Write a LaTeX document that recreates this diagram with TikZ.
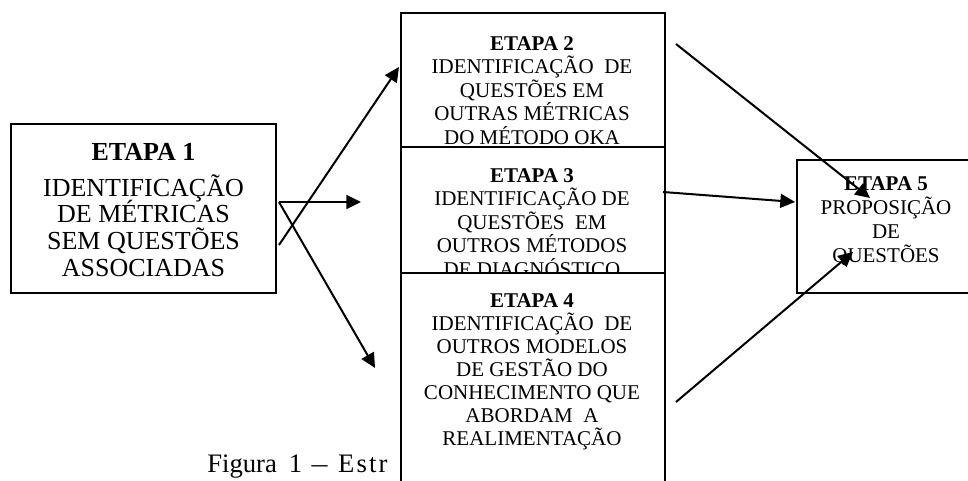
\documentclass[tikz,border=0pt]{standalone}
\usepackage{fontspec}
\setmainfont{Liberation Serif}
\usetikzlibrary{arrows.meta}
\newcommand{\fbig}{\rmfamily\fontsize{19.5pt}{19.9pt}\selectfont\lineskiplimit=-100pt}
\newcommand{\fmid}{\rmfamily\fontsize{15.75pt}{17.6pt}\selectfont\lineskiplimit=-100pt}
\newcommand{\fmidb}{\rmfamily\fontsize{15.75pt}{17.25pt}\selectfont\lineskiplimit=-100pt}
\newcommand{\fright}{\rmfamily\fontsize{15.75pt}{18pt}\selectfont\lineskiplimit=-100pt}
\newcommand{\fcap}{\rmfamily\fontsize{20pt}{22pt}\selectfont}
\tikzset{
  boxstyle/.style={draw, line width=1.5pt, fill=white, inner sep=0pt, anchor=north west},
  txt/.style={inner sep=0pt, align=center, anchor=north},
  arr/.style={line width=1.5pt, -{Triangle[length=11pt,width=10.5pt]}}
}
\begin{document}
\begin{tikzpicture}[x=0.75pt, y=-0.75pt]
\useasboundingbox (0,0) rectangle (968,481);
% caption (partly hidden by box 4)
\node[inner sep=0pt, anchor=base west, font=\fcap] (cap) at (207,472) {Figura\hspace{9pt}1\hspace{7pt}\scalebox{1.2}[1]{–}\hspace{8pt}{\addfontfeature{LetterSpace=8}Estr}};
% box 1
\node[boxstyle, minimum width=198.75pt, minimum height=126.75pt] (e1) at (10,123) {};
\node[txt, font=\fbig] (t1) at (143.5,143) {\textbf{ETAPA 1}\\[7.1pt] IDENTIFICAÇÃO\\DE MÉTRICAS\\SEM QUESTÕES\\ASSOCIADAS};
% box 2
\node[boxstyle, minimum width=198pt, minimum height=100.5pt] (e2) at (400,12) {};
\node[txt, font=\fmid] (t2) at (532,36) {\textbf{ETAPA 2}\\IDENTIFICAÇÃO\ \ DE\\QUESTÕES EM\\OUTRAS MÉTRICAS\\DO MÉTODO OKA};
% box 3
\node[boxstyle, minimum width=198pt, minimum height=94.5pt] (e3) at (400,146) {};
\node[txt, font=\fmid] (t3) at (532,168) {\textbf{ETAPA 3}\\IDENTIFICAÇÃO DE\\QUESTÕES\ \ EM\\OUTROS MÉTODOS\\DE DIAGNÓSTICO};
% box 4 (covers the bottom of box 3 and the caption)
\node[boxstyle, minimum width=198pt, minimum height=187.5pt] (e4) at (400,272) {};
\node[txt, font=\fmidb] (t4) at (532,293) {\textbf{ETAPA 4}\\IDENTIFICAÇÃO\ \ DE\\OUTROS MODELOS\\DE GESTÃO DO\\CONHECIMENTO QUE\\ABORDAM\ \ A\\REALIMENTAÇÃO};
% box 5
\node[boxstyle, minimum width=135pt, minimum height=99.75pt] (e5) at (796,159) {};
\node[txt, font=\fright] (t5) at (886,176) {\textbf{ETAPA 5}\\PROPOSIÇÃO\\DE\\QUESTÕES};
% connector end points
\coordinate (j) at (279,202);
\coordinate (s1) at (279,245);
\coordinate (p2) at (399,67);
\coordinate (p3) at (361,202);
\coordinate (p4) at (375,368);
\coordinate (q2) at (676,44);
\coordinate (q3) at (663,192);
\coordinate (q4) at (676,402);
\coordinate (r2) at (870,198);
\coordinate (r3) at (795,202);
\coordinate (r4) at (853,252);
% arrows
\draw[arr] (s1) -- (p2);
\draw[arr] (j) -- (p3);
\draw[arr] (j) -- (p4);
\draw[arr] (q2) -- (r2);
\draw[arr] (q3) -- (r3);
\draw[arr] (q4) -- (r4);
\end{tikzpicture}
\end{document}
